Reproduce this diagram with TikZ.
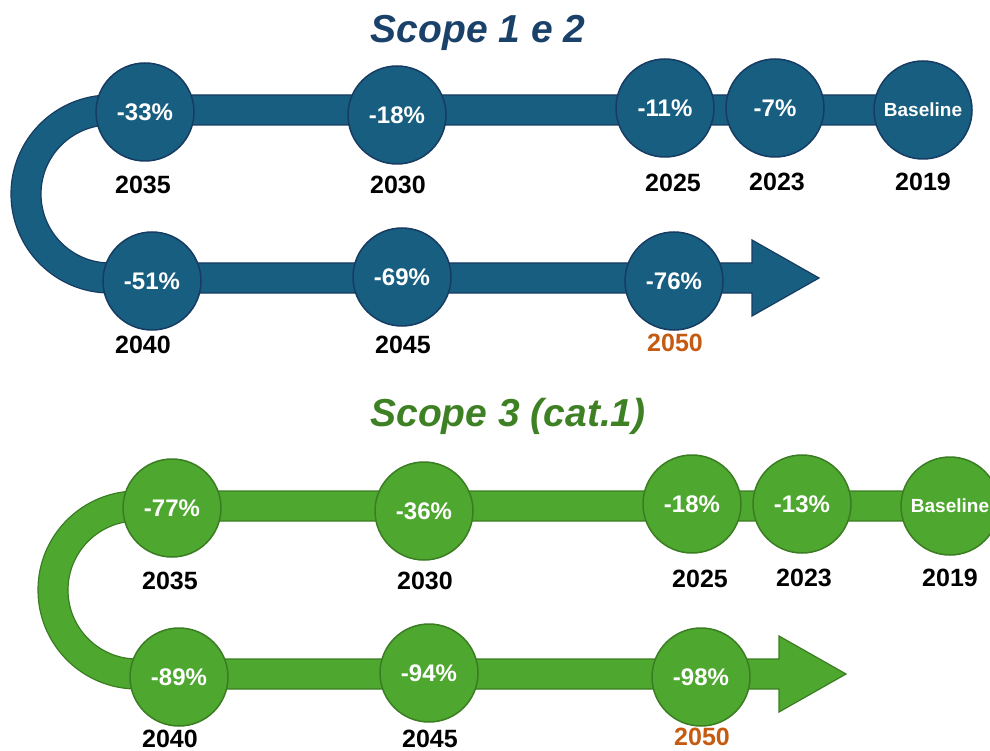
\documentclass[tikz,border=0pt]{standalone}
\usepackage{fontspec}
\setmainfont{Liberation Sans}
\usetikzlibrary{positioning}
\definecolor{roadblue}{RGB}{24,94,128}
\definecolor{roadblue-line}{RGB}{23,60,98}
\definecolor{titleblue}{RGB}{25,65,105}
\definecolor{roadgreen}{RGB}{78,167,46}
\definecolor{roadgreen-line}{RGB}{59,125,35}
\definecolor{titlegreen}{RGB}{62,128,36}
\definecolor{targetorange}{RGB}{197,90,17}
\tikzset{
  band/.style={line width=1.2pt, line join=miter},
  milestone/.style={circle, minimum size=98pt, inner sep=0pt, line width=1.5pt,
    text=white, font=\bfseries\fontsize{24}{24}\selectfont},
  milestone-base/.style={milestone, font=\bfseries\fontsize{19}{19}\selectfont},
  year/.style={inner sep=0pt, font=\bfseries\fontsize{25}{25}\selectfont},
  heading/.style={font=\bfseries\itshape\fontsize{39}{39}\selectfont}
}
% U-shaped band with the arrow head, panel coordinates in px
\newcommand{\roadband}[2]{
  \filldraw[band, fill=#1, draw=#2]
    (923,-95) -- (110,-95)
    arc[start angle=90, end angle=270, radius=99]
    -- (752,-293) -- (752,-316) -- (819,-278) -- (752,-240) -- (752,-263)
    -- (110,-263)
    arc[start angle=270, end angle=90, radius=69]
    -- (923,-125) -- cycle;
}

\begin{document}
\begin{tikzpicture}[x=1pt, y=1pt]
  \useasboundingbox (0,0) rectangle (990,-751);
  % Scope 1 e 2
  \node[heading, text=titleblue] (title-a) at (478,-33) {Scope 1 e 2};
  \begin{scope}
    \roadband{roadblue}{roadblue-line}
    \foreach \id/\px/\py/\val/\yr/\gap/\dx/\yc in {
      1/145/112/-33/2035/14/-2/black,
      2/397/115/-18/2030/11/1/black,
      3/665/108/-11/2025/16/8/black,
      4/775/108/-7/2023/15/2/black,
      6/152/281/-51/2040/5/-9/black,
      7/402/277/-69/2045/9/1/black,
      8/674/281/-76/2050/3/1/targetorange}{
      \node[milestone, fill=roadblue, draw=roadblue-line] (a\id) at (\px,-\py) {\val\%};
      \node[year, text=\yc, below=\gap pt of a\id, xshift=\dx pt] (a\id-year) {\yr};
    }
    \node[milestone-base, fill=roadblue, draw=roadblue-line] (a5) at (923,-110) {Baseline};
    \node[year, below=13pt of a5] (a5-year) {2019};
  \end{scope}
  % Scope 3 (cat.1)
  \node[heading, text=titlegreen] (title-b) at (508,-416) {Scope 3 (cat.1)};
  \begin{scope}[shift={(27,-396)}]
    \roadband{roadgreen}{roadgreen-line}
    \foreach \id/\px/\py/\val/\yr/\gap/\dx/\yc in {
      1/145/112/-77/2035/14/-2/black,
      2/397/115/-36/2030/11/1/black,
      3/665/108/-18/2025/16/8/black,
      4/775/108/-13/2023/15/2/black,
      6/152/281/-89/2040/3/-9/black,
      7/402/277/-94/2045/7/1/black,
      8/674/281/-98/2050/1/1/targetorange}{
      \node[milestone, fill=roadgreen, draw=roadgreen-line] (b\id) at (\px,-\py) {\val\%};
      \node[year, text=\yc, below=\gap pt of b\id, xshift=\dx pt] (b\id-year) {\yr};
    }
    \node[milestone-base, fill=roadgreen, draw=roadgreen-line] (b5) at (923,-110) {Baseline};
    \node[year, below=13pt of b5] (b5-year) {2019};
  \end{scope}
\end{tikzpicture}
\end{document}
